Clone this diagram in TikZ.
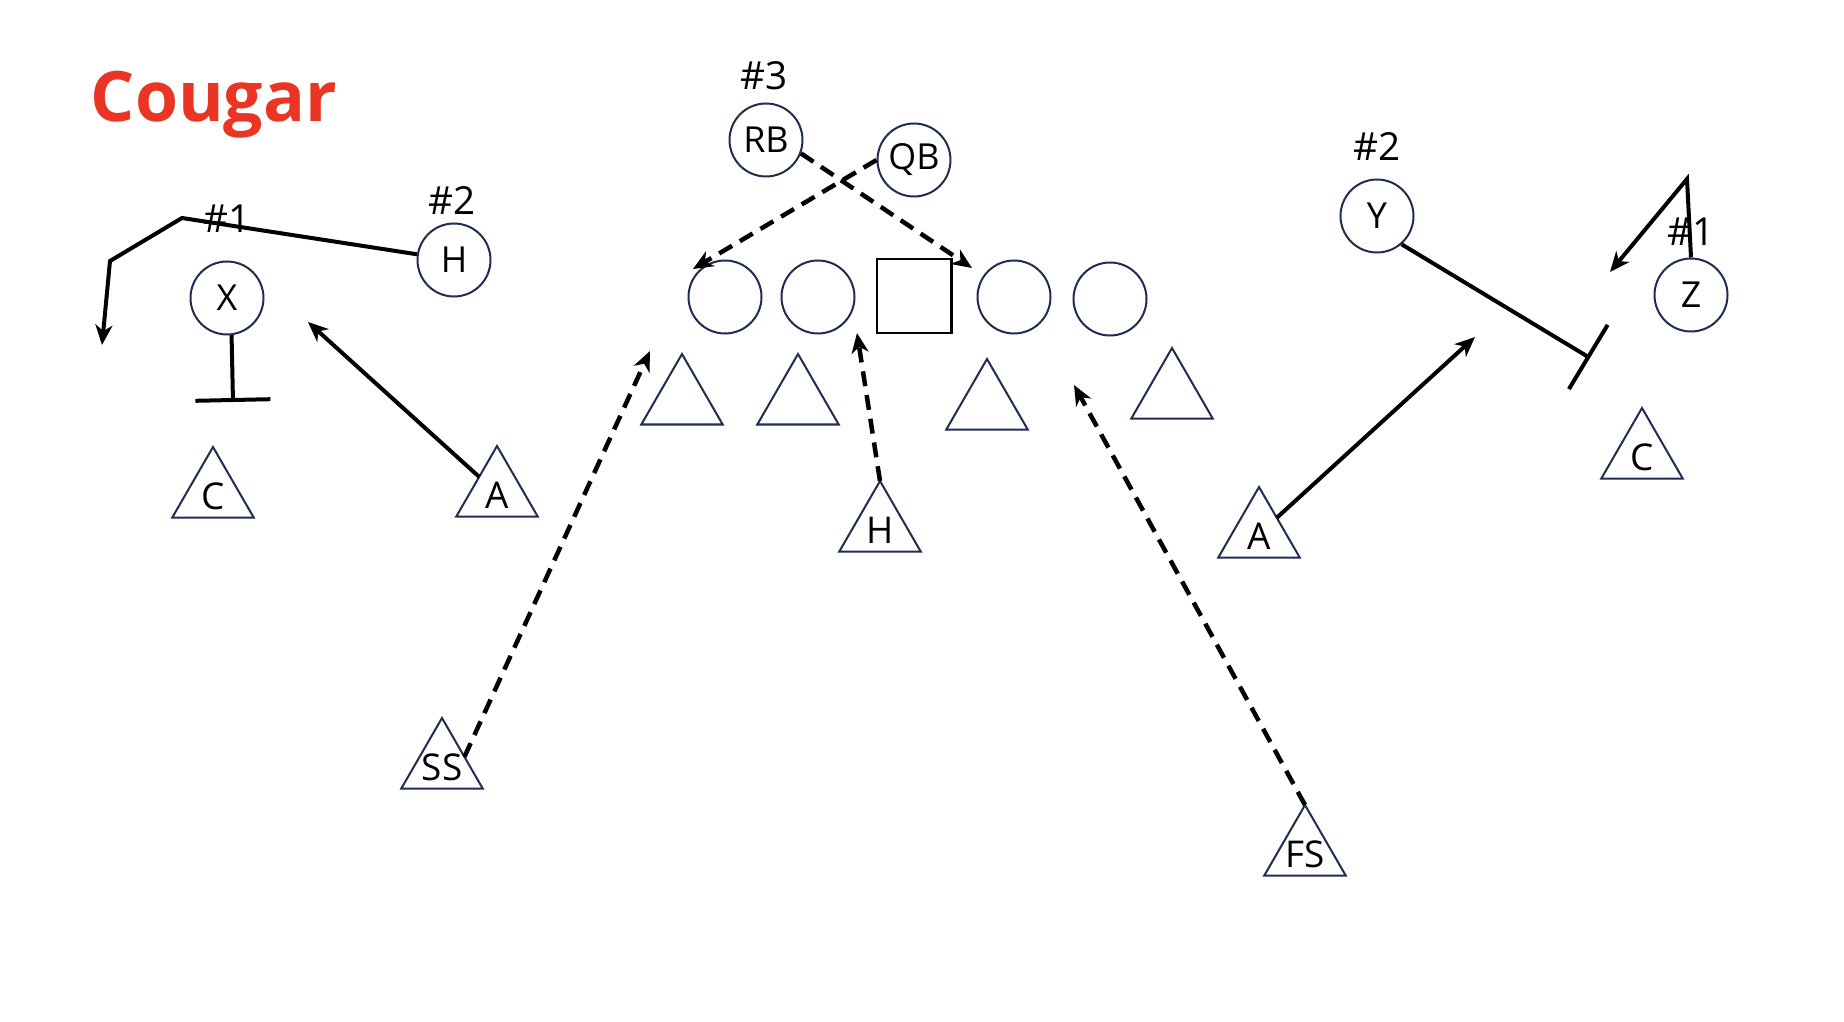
\documentclass[tikz,border=0pt]{standalone}
\usepackage{fontspec}
\setmainfont{Open Sans}
\usepackage{tikz}
\usetikzlibrary{arrows.meta, shapes.geometric}
\usepackage{xcolor}
\definecolor{navy}{RGB}{31,45,78}
\definecolor{cougar}{RGB}{234,52,36}

\begin{document}
\begin{tikzpicture}[
  player/.style={circle, draw=navy, line width=0.02cm, minimum size=0.73cm, inner sep=0pt, font=\fontsize{10.2}{12}\selectfont},
  snapper/.style={rectangle, draw=black, line width=0.025cm, minimum size=0.745cm, inner sep=0pt},
  defender/.style={regular polygon, regular polygon sides=3, draw=navy, line width=0.02cm, minimum size=0.94cm, inner sep=0pt, outer sep=0pt},
  dlabel/.style={label={[font=\fontsize{10.5}{12}\selectfont, inner sep=0pt, yshift=-0.02cm]center:#1}},
  tag/.style={anchor=base, inner sep=0pt, font=\fontsize{11}{13}\selectfont},
  route/.style={line width=0.04cm},
  blitz/.style={line width=0.045cm, dash pattern=on 0.15cm off 0.09cm},
  tip/.style={-{Stealth[length=0.2cm, width=0.17cm, inset=0.06cm]}},
  block/.style={-{Bar[width=0.75cm]}}
]
  \fill[white] (0,0) rectangle (18.44,-10.22);
  \useasboundingbox (0,0) rectangle (18.44,-10.22);

  \node[anchor=base west, inner sep=0pt, text=cougar, font=\fontsize{19.8}{24}\selectfont\bfseries] (title) at (0.90,-1.22) {Cougar};

  % offense
  \node[player] (H) at (4.54,-2.60) {H};
  \node[player] (X) at (2.27,-2.98) {X};
  \node[player] (RB) at (7.66,-1.40) {RB};
  \node[player] (QB) at (9.14,-1.60) {QB};
  \node[player] (Y) at (13.77,-2.16) {Y};
  \node[player] (Z) at (16.91,-2.95) {Z};
  \node[player] (LT) at (7.25,-2.97) {};
  \node[player] (LG) at (8.18,-2.97) {};
  \node[snapper] (Ctr) at (9.14,-2.96) {};
  \node[player] (RG) at (10.14,-2.97) {};
  \node[player] (RT) at (11.10,-2.99) {};

  % numbering
  \node[tag] (n1L) at (2.27,-2.33) {\#1};
  \node[tag] (n2L) at (4.52,-2.15) {\#2};
  \node[tag] (n3) at (7.64,-0.90) {\#3};
  \node[tag] (n2R) at (13.77,-1.61) {\#2};
  \node[tag] (n1R) at (16.91,-2.46) {\#1};

  % defense
  \node[defender, dlabel=C] (CL) at (2.13,-4.94) {};
  \node[defender, dlabel=A] (AL) at (4.97,-4.93) {};
  \node[defender] (T1) at (6.82,-4.01) {};
  \node[defender] (T2) at (7.98,-4.01) {};
  \node[defender] (T3) at (9.87,-4.06) {};
  \node[defender] (T4) at (11.72,-3.95) {};
  \node[defender, dlabel=H] (HD) at (8.80,-5.28) {};
  \node[defender, dlabel=SS] (SS) at (4.42,-7.65) {};
  \node[defender, dlabel=FS] (FS) at (13.05,-8.52) {};
  \node[defender, dlabel=A] (AR) at (12.59,-5.34) {};
  \node[defender, dlabel=C] (CR) at (16.42,-4.55) {};

  % route ends
  \coordinate (hBend1) at (1.82,-2.18);
  \coordinate (hBend2) at (1.10,-2.61);
  \coordinate (hEnd) at (1.02,-3.45);
  \coordinate (xEnd) at (2.33,-4.02);
  \coordinate (alEnd) at (3.08,-3.22);
  \coordinate (ssEnd) at (6.50,-3.51);
  \coordinate (rbEnd) at (9.72,-2.68);
  \coordinate (qbEnd) at (6.93,-2.69);
  \coordinate (hdEnd) at (8.57,-3.33);
  \coordinate (fsEnd) at (10.74,-3.85);
  \coordinate (arEnd) at (14.75,-3.37);
  \coordinate (yEnd) at (15.90,-3.58);
  \coordinate (zBend) at (16.87,-1.79);
  \coordinate (zEnd) at (16.10,-2.72);

  % routes and blocks
  \draw[route, tip] (H) -- (hBend1) -- (hBend2) -- (hEnd);
  \draw[route, block] (X.-83) -- (xEnd);
  \draw[route, block] (Y.-49) -- (yEnd);
  \draw[route, tip] (Z.north) -- (zBend) -- (zEnd);

  % rushers
  \draw[route, tip] (AL) -- (alEnd);
  \draw[route, tip] (AR) -- (arEnd);
  \draw[blitz, tip] (SS.20) -- (ssEnd);
  \draw[blitz, tip] (HD.corner 1) -- (hdEnd);
  \draw[blitz, tip] (FS.corner 1) -- (fsEnd);

  % backfield
  \draw[blitz, tip] (RB.-21) -- (rbEnd);
  \draw[blitz, tip] (QB.west) -- (qbEnd);
\end{tikzpicture}
\end{document}
